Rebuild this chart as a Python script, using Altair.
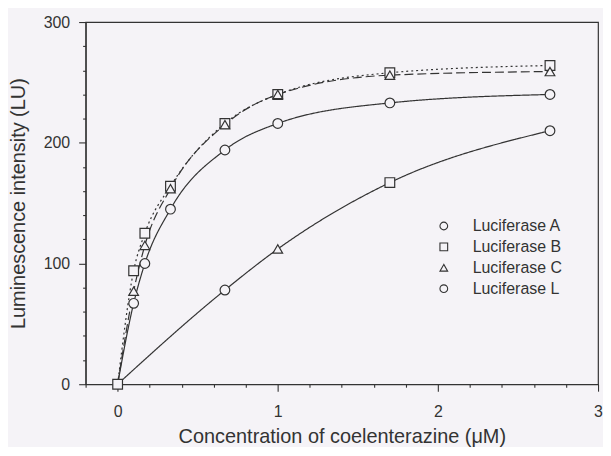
import altair as alt
import pandas as pd

# ---- data ----
X_MAIN = [0, 0.1, 0.17, 0.33, 0.67, 1.0, 1.7, 2.7]
Y_A = [0, 67, 100, 145, 194, 216, 233, 240]
Y_B = [0, 94, 125, 164, 216, 240, 258, 264]
Y_C = [0, 77, 115, 162, 215, 240, 256, 259]

X_L = [0, 0.67, 1.0, 1.7, 2.7]
Y_L = [0, 78, 112, 167, 210]
SHAPES_L = [None, "circle", "triangle-up", "square", "circle"]

SERIES = ["Luciferase A", "Luciferase B", "Luciferase C", "Luciferase L"]
LEGEND_SHAPES = ["circle", "square", "triangle-up", "circle"]
SERIES_MARKER = {"Luciferase A": "circle", "Luciferase B": "square", "Luciferase C": "triangle-up"}

X_TICKS = [-0.2, 0, 0.2, 0.4, 0.6, 0.8, 1.0, 1.2, 1.4, 1.6, 1.8, 2.0, 2.2, 2.4, 2.6, 2.8, 3.0]
Y_TICKS = list(range(0, 301, 20))

INK = "#333333"
BG = "#f5f3f7"
FONT = "Liberation Sans"

# ---- tables ----
line_rows = []
for name, ys in zip(SERIES[:3], [Y_A, Y_B, Y_C]):
    for x, y in zip(X_MAIN, ys):
        line_rows.append({"series": name, "x": x, "y": y})
for x, y in zip(X_L, Y_L):
    line_rows.append({"series": "Luciferase L", "x": x, "y": y})
lines_df = pd.DataFrame(line_rows)

pt_rows = []
for name, ys in zip(SERIES[:3], [Y_A, Y_B, Y_C]):
    for x, y in zip(X_MAIN, ys):
        if x == 0 and name != "Luciferase B":
            continue
        pt_rows.append({"series": name, "x": x, "y": y, "marker": SERIES_MARKER[name]})
for x, y, s in zip(X_L, Y_L, SHAPES_L):
    if s is None:
        continue
    pt_rows.append({"series": "Luciferase L", "x": x, "y": y, "marker": s})
pts_df = pd.DataFrame(pt_rows)

legend_df = pd.DataFrame({"label": SERIES})

x_scale = alt.Scale(domain=[-0.2, 3], nice=False, zero=False)
y_scale = alt.Scale(domain=[0, 300], nice=False)

X_MAJOR = "abs(datum.value - round(datum.value)) < 0.001"
x_axis = alt.Axis(
    values=X_TICKS,
    labelExpr=f"{X_MAJOR} && datum.value > -0.1 ? format(round(datum.value), 'd') : ''",
    tickSize={"condition": {"test": X_MAJOR, "value": 7}, "value": 3},
    grid=False,
    labelOverlap=False,
    labelFlush=False,
    labelPadding=12,
    titlePadding=8,
    title="Concentration of coelenterazine (\u03bcM)",
)
Y_MAJOR = "abs(datum.value % 100) < 0.001"
y_axis = alt.Axis(
    values=Y_TICKS,
    labelExpr=f"{Y_MAJOR} ? format(datum.value, 'd') : ''",
    tickSize={"condition": {"test": Y_MAJOR, "value": 7}, "value": 3},
    grid=False,
    labelOverlap=False,
    labelFlush=False,
    labelPadding=9,
    titlePadding=15,
    title="Luminescence intensity (LU)",
)

lines = alt.Chart(lines_df).mark_line(
    interpolate="monotone", color=INK, strokeWidth=1.2
).encode(
    x=alt.X("x:Q", scale=x_scale, axis=x_axis),
    y=alt.Y("y:Q", scale=y_scale, axis=y_axis),
    detail="series:N",
    strokeDash=alt.StrokeDash(
        "series:N",
        scale=alt.Scale(domain=SERIES, range=[[1, 0], [2, 3], [9, 4], [1, 0]]),
        legend=None,
    ),
)

points = alt.Chart(pts_df).mark_point(
    filled=True, fill=BG, stroke=INK, strokeWidth=1.2, size=95, opacity=1
).encode(
    x=alt.X("x:Q", scale=x_scale, axis=x_axis),
    y=alt.Y("y:Q", scale=y_scale, axis=y_axis),
    shape=alt.Shape("marker:N", scale=None),
)

legend_layer = alt.Chart(legend_df).mark_point(opacity=0, size=60).encode(
    shape=alt.Shape(
        "label:N",
        scale=alt.Scale(domain=SERIES, range=LEGEND_SHAPES),
        legend=alt.Legend(
            title=None,
            orient="none",
            legendX=352,
            legendY=197,
            labelFont=FONT,
            labelFontSize=16,
            labelColor=INK,
            labelOffset=21,
            symbolSize=60,
            symbolOpacity=1,
            symbolFillColor="transparent",
            symbolStrokeColor=INK,
            symbolStrokeWidth=1.1,
            rowPadding=5,
        ),
    ),
)

chart = alt.layer(lines, points, legend_layer).resolve_scale(
    shape="independent"
).properties(
    width=515,
    height=364,
    autosize=alt.AutoSizeParams(type="none"),
    padding={"left": 78, "top": 13, "right": 5, "bottom": 62},
    background=BG,
).configure_view(
    stroke=INK, strokeWidth=1.2, fill=BG
).configure_axis(
    domainColor=INK,
    domainWidth=1.2,
    tickColor=INK,
    tickWidth=1.1,
    labelOverlap=False,
    labelFont=FONT,
    labelFontSize=16,
    labelColor=INK,
    titleFont=FONT,
    titleFontSize=20,
    titleFontWeight="normal",
    titleColor=INK,
)

chart.save("out.html", embed_options={"renderer": "svg", "actions": False})
